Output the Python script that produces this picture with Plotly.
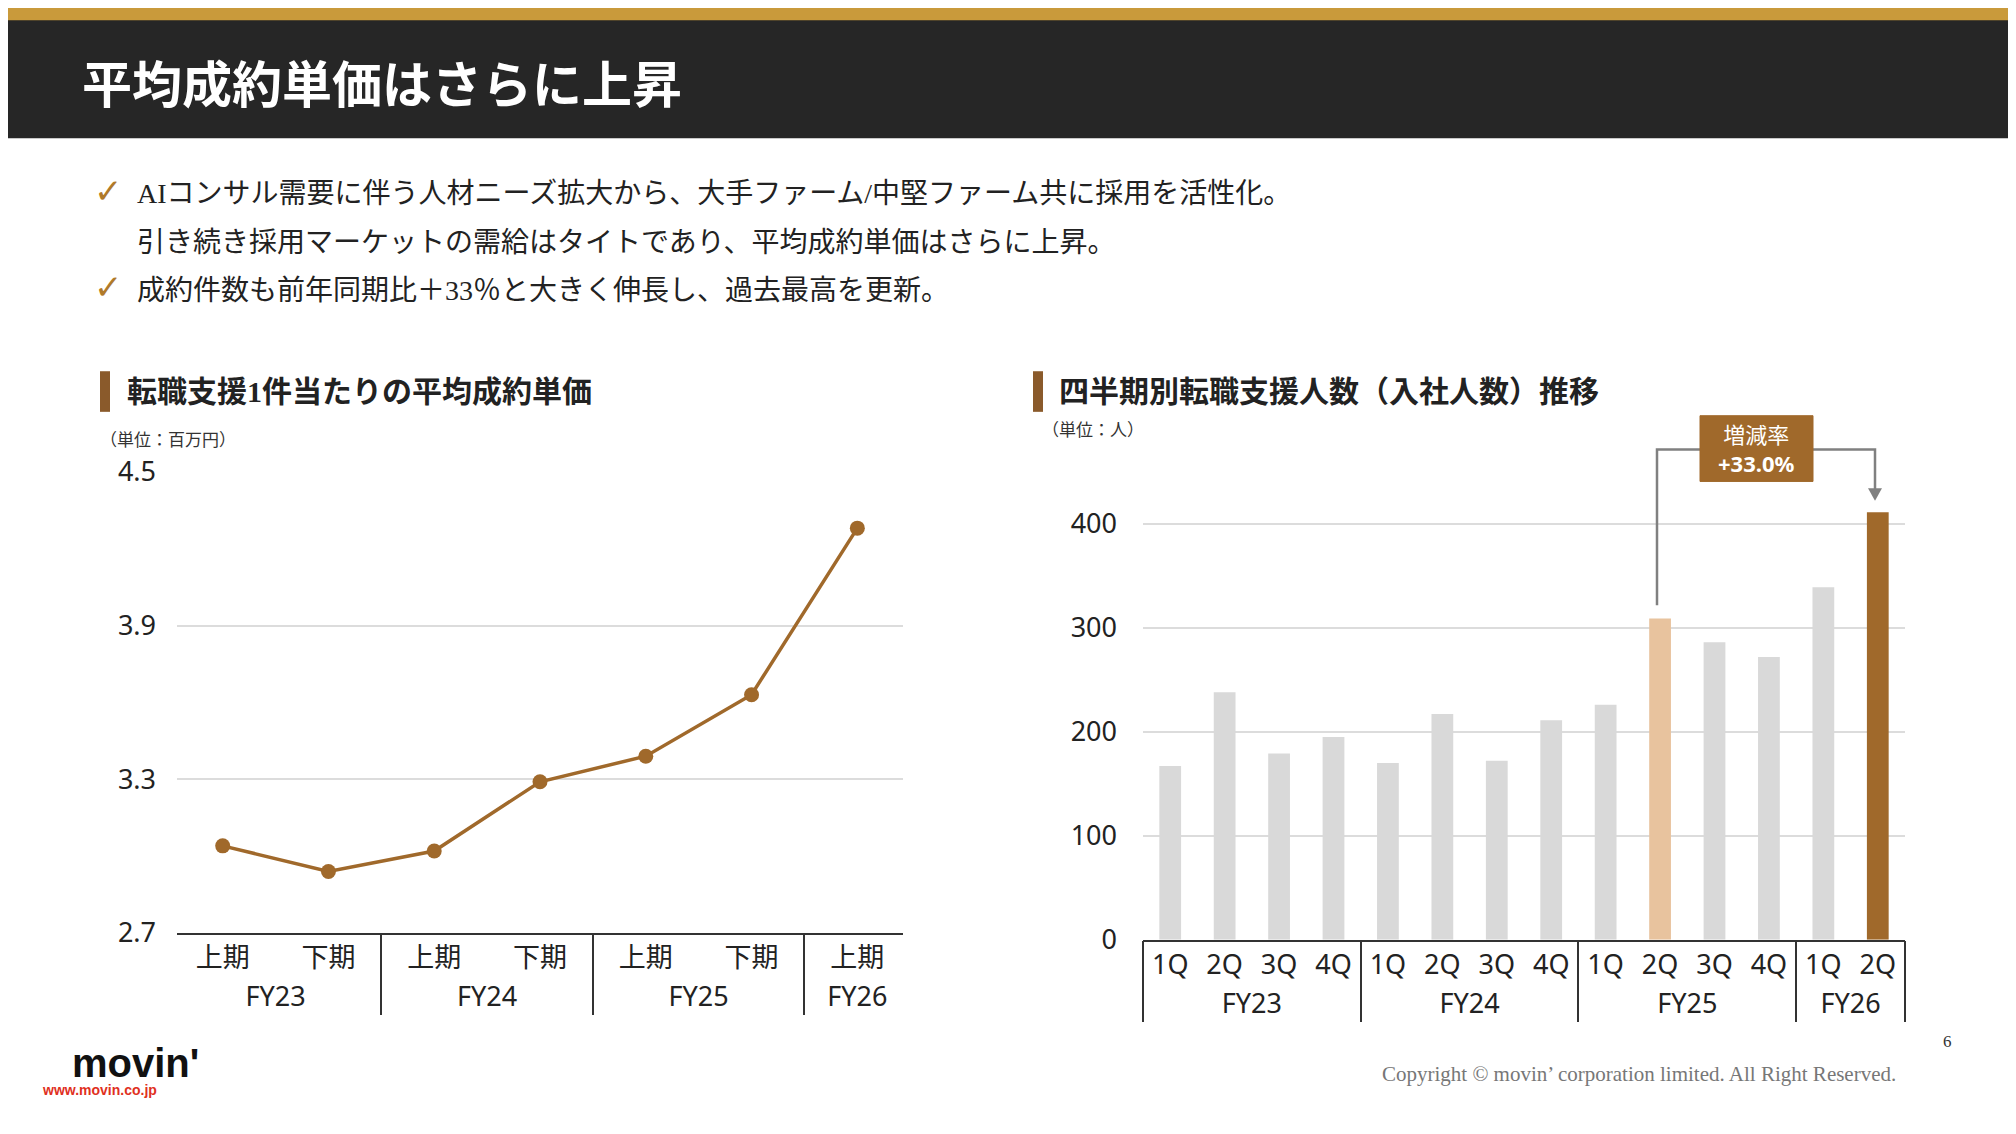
import plotly.graph_objects as go

W, H = 2000, 1116
OFF = 8  # page margin around the figure

# data
half_fy = ["FY23", "FY23", "FY24", "FY24", "FY25", "FY25", "FY26"]
half_lbl = ["上期", "下期", "上期", "下期", "上期", "下期", "上期"]
unit_price = [3.04, 2.94, 3.02, 3.29, 3.39, 3.63, 4.28]

q_fy = ["FY23"] * 4 + ["FY24"] * 4 + ["FY25"] * 4 + ["FY26"] * 2
q_lbl = ["1Q", "2Q", "3Q", "4Q"] * 3 + ["1Q", "2Q"]
hires = [167, 238, 179, 195, 170, 217, 172, 211, 226, 309, 286, 272, 339, 411]
bar_colors = ["#d9d9d9"] * 9 + ["#e8c39e"] + ["#d9d9d9"] * 3 + ["#a0692b"]

BROWN = "#a0692b"
JP = "Noto Sans CJK JP"
SERIF = "Liberation Serif, Noto Sans CJK JP"


def px(x):
    return (x - OFF) / W


def py(y):
    return (H - (y - OFF)) / H


fig = go.Figure()
fig.add_trace(go.Scatter(
    x=[half_fy, half_lbl], y=unit_price, mode="lines+markers",
    line=dict(color=BROWN, width=3.5), marker=dict(size=15, color=BROWN),
    xaxis="x", yaxis="y", showlegend=False))
fig.add_trace(go.Bar(
    x=[q_fy, q_lbl], y=hires, marker=dict(color=bar_colors, line_width=0),
    xaxis="x2", yaxis="y2", showlegend=False))

axfont = dict(family="Noto Sans, " + JP, size=27, color="#222")
fig.update_layout(
    width=W, height=H, margin=dict(l=0, r=0, t=0, b=0),
    paper_bgcolor="white", plot_bgcolor="white", bargap=0.6,
    xaxis=dict(domain=[px(177), px(903)], type="multicategory", tickfont=axfont,
               showline=True, linecolor="#333", linewidth=1.5, showdividers=True,
               dividercolor="#333", dividerwidth=1.5, ticks=""),
    yaxis=dict(domain=[py(944), py(467)], range=[2.7, 4.5], tickvals=[2.7, 3.3, 3.9, 4.5],
               ticktext=["2.7", "3.3", "3.9", "4.5"], tickfont=axfont, gridcolor="#dcdcdc",
               gridwidth=1.5, zeroline=False, ticks="", ticklabelstandoff=20),
    xaxis2=dict(domain=[px(1143), px(1905)], type="multicategory", tickfont=axfont,
                showline=True, linecolor="#333", linewidth=1.5, showdividers=True,
                dividercolor="#333", dividerwidth=1.5, ticks="", anchor="y2"),
    yaxis2=dict(domain=[py(951), py(467)], range=[0, 450], tickvals=[0, 100, 200, 300, 400],
                tickfont=axfont, gridcolor="#dcdcdc", gridwidth=1.5, zeroline=False,
                ticks="", anchor="x2", ticklabelstandoff=25),
)

shapes = [
    dict(type="rect", xref="paper", yref="paper", x0=-0.01, x1=1.01, y0=py(122), y1=1.05,
         fillcolor="#262626", line_width=0, layer="below"),
    dict(type="rect", xref="paper", yref="paper", x0=-0.01, x1=1.01, y0=py(0), y1=1.05,
         fillcolor="#c99a3b", line_width=0),
    dict(type="rect", xref="paper", yref="paper", x0=px(100), x1=px(110), y0=py(405), y1=py(363),
         fillcolor="#8a5a2b", line_width=0),
    dict(type="rect", xref="paper", yref="paper", x0=px(1033), x1=px(1043), y0=py(405), y1=py(363),
         fillcolor="#8a5a2b", line_width=0),
    # connector from FY25 2Q to FY26 2Q
    dict(type="path", xref="paper", yref="paper",
         path=f"M {px(1657)} {py(605)} L {px(1657)} {py(444)} L {px(1875)} {py(444)} L {px(1875)} {py(488)}",
         line=dict(color="#808080", width=2.5)),
    dict(type="path", xref="paper", yref="paper",
         path=f"M {px(1868)} {py(484)} L {px(1882)} {py(484)} L {px(1875)} {py(497)} Z",
         fillcolor="#808080", line_width=0),
    dict(type="rect", xref="paper", yref="paper", x0=px(1700), x1=px(1813), y0=py(477), y1=py(409),
         fillcolor=BROWN, line=dict(color=BROWN, width=1)),
]
fig.update_layout(shapes=shapes)

ann = [
    dict(x=px(80), y=py(68), text="<b>平均成約単価はさらに上昇</b>", font=dict(family=SERIF, size=50, color="white")),
    dict(x=px(92), y=py(177), text="✓", font=dict(family="DejaVu Sans", size=34, color="#b07a2a")),
    dict(x=px(135), y=py(179), text="AIコンサル需要に伴う人材ニーズ拡大から、大手ファーム/中堅ファーム共に採用を活性化。",
         font=dict(family=SERIF, size=28, color="#222")),
    dict(x=px(135), y=py(230), text="引き続き採用マーケットの需給はタイトであり、平均成約単価はさらに上昇。",
         font=dict(family=SERIF, size=28, color="#222")),
    dict(x=px(92), y=py(276), text="✓", font=dict(family="DejaVu Sans", size=34, color="#b07a2a")),
    dict(x=px(135), y=py(279), text="成約件数も前年同期比＋33％と大きく伸長し、過去最高を更新。",
         font=dict(family=SERIF, size=28, color="#222")),
    dict(x=px(125), y=py(384), text="<b>転職支援1件当たりの平均成約単価</b>", font=dict(family=SERIF, size=30, color="#222")),
    dict(x=px(1057), y=py(384), text="<b>四半期別転職支援人数（入社人数）推移</b>", font=dict(family=SERIF, size=30, color="#222")),
    dict(x=px(98), y=py(433), text="（単位：百万円）", font=dict(family=JP, size=17, color="#333")),
    dict(x=px(1040), y=py(422), text="（単位：人）", font=dict(family=JP, size=17, color="#333")),
    dict(x=px(1756), y=py(443), xanchor="center", text="増減率<br><b>+33.0%</b>",
         font=dict(family="Noto Sans, " + JP, size=22, color="white")),
    dict(x=px(1898), y=py(1090), xanchor="right",
         text="Copyright © movin’ corporation limited. All Right Reserved.",
         font=dict(family="Liberation Serif", size=21, color="#777")),
    dict(x=px(1947), y=py(1056), xanchor="center", text="6", font=dict(family="Liberation Serif", size=17, color="#333")),
    dict(x=px(70), y=py(1078), text="<b>movin'</b>", font=dict(family="Liberation Sans", size=40, color="#111")),
    dict(x=px(40), y=py(1106), text="<b>www.movin.co.jp</b>", font=dict(family="Liberation Sans", size=14, color="#e0301e")),
]
for a in ann:
    a.setdefault("xanchor", "left")
    a.update(xref="paper", yref="paper", yanchor="middle", showarrow=False)
fig.update_layout(annotations=ann)

fig.write_html("out.html")
